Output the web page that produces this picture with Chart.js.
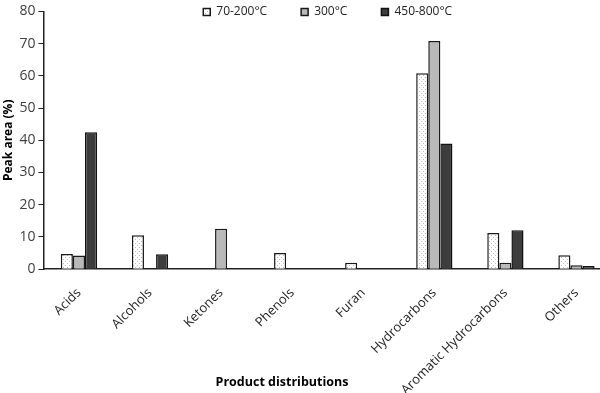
<!DOCTYPE html>
<html>
<head>
<meta charset="utf-8">
<script src="https://cdn.jsdelivr.net/npm/chart.js@4"></script>
<style>
  html, body { margin: 0; padding: 0; background: #fff; }
  #wrap { width: 600px; height: 393px; }
</style>
</head>
<body>
<div id="wrap"><canvas id="chart"></canvas></div>
<script>
const categories = ['Acids', 'Alcohols', 'Ketones', 'Phenols', 'Furan', 'Hydrocarbons', 'Aromatic Hydrocarbons', 'Others'];
const seriesNames = ['70-200°C', '300°C', '450-800°C'];
const low = [4.7, 10.5, 0, 5.0, 2.0, 60.8, 11.2, 4.3];
const mid = [4.2, 0, 12.5, 0, 0, 70.8, 2.0, 1.2];
const high = [42.5, 4.6, 0, 0, 0, 39.0, 12.1, 1.0];
const xTitle = 'Product distributions';
const yTitle = 'Peak area (%)';

const font = "'Open Sans', sans-serif";

// dotted fill for the low-temperature series
function dotPattern() {
    let c = document.createElement('canvas');
    c.width = 4;
    c.height = 4;
    let g = c.getContext('2d');
    g.fillStyle = '#ffffff';
    g.fillRect(0, 0, 4, 4);
    g.fillStyle = '#bdbdbd';
    g.fillRect(1, 1, 1, 1);
    g.fillRect(3, 3, 1, 1);
    return g.createPattern(c, 'repeat');
}

// the original plot is cropped on the right: stretch the x scale past the canvas edge
const EXTRA_RIGHT = 12;
const widenX = {
    id: 'widenX',
    afterLayout(chart) {
        let xs = chart.scales.x;
        xs.right += EXTRA_RIGHT;
        xs.width += EXTRA_RIGHT;
        xs.configure();
        chart.chartArea.right += EXTRA_RIGHT;
        chart.chartArea.width += EXTRA_RIGHT;
    }
};

// legend sits inside the plot, over the top of the bars, like the excel original
const overlayLegend = {
    id: 'overlayLegend',
    beforeLayout(chart) {
        let lg = chart.legend;
        if (lg && !lg._flat) {
            let fit = lg.fit;
            lg.fit = function () { fit.call(this); this.height = 0; };
            lg._flat = true;
        }
    },
    afterLayout(chart) {
        let lg = chart.legend;
        let p = lg.options.labels.padding;
        lg.top = 12 - 6 - p;
        lg.bottom = 30;
        lg.left = chart.chartArea.left;
        lg.right = chart.chartArea.right;
    }
};

// x title is off-centre in the original, so it is placed by hand
const xTitlePlugin = {
    id: 'xTitlePlugin',
    afterDraw(chart) {
        let ctx = chart.ctx;
        ctx.save();
        ctx.font = "bold 12.5px " + font;
        ctx.fillStyle = '#000';
        ctx.textAlign = 'center';
        ctx.textBaseline = 'middle';
        ctx.fillText(xTitle, 282, 382);
        ctx.restore();
    }
};

new Chart(document.getElementById('chart'), {
    type: 'bar',
    plugins: [widenX, overlayLegend, xTitlePlugin],
    data: {
        labels: categories,
        datasets: [
            { label: seriesNames[0], data: low, backgroundColor: dotPattern(), borderColor: '#1a1a1a', borderWidth: 1.5 },
            { label: seriesNames[1], data: mid, backgroundColor: '#b9b9b9', borderColor: '#1a1a1a', borderWidth: 1.5 },
            { label: seriesNames[2], data: high, backgroundColor: '#3d3d3d', borderColor: '#111111', borderWidth: 1.5 }
        ]
    },
    options: {
        responsive: true,
        maintainAspectRatio: false,
        animation: false,
        categoryPercentage: 0.51,
        barPercentage: 1,
        layout: { padding: { top: 1, right: 0, left: 0, bottom: -21 } },
        plugins: {
            legend: {
                position: 'top',
                align: 'center',
                labels: {
                    boxWidth: 7,
                    boxHeight: 7,
                    padding: 34,
                    color: '#222',
                    font: { family: font, size: 12 }
                }
            },
            tooltip: { enabled: false }
        },
        scales: {
            x: {
                grid: { display: false, drawTicks: false },
                border: { color: '#222', width: 1.5 },
                ticks: {
                    minRotation: 45,
                    maxRotation: 45,
                    padding: 16,
                    color: '#222',
                    font: { family: font, size: 13 }
                }
            },
            y: {
                min: 0,
                max: 80,
                grid: { drawOnChartArea: false, tickLength: 5, color: '#222' },
                border: { color: '#222', width: 1.5 },
                ticks: {
                    stepSize: 5,
                    color: '#404040',
                    padding: 3,
                    font: { family: font, size: 14 },
                    callback: (v) => v % 10 === 0 ? v : ''
                },
                title: {
                    display: true,
                    text: yTitle,
                    color: '#000',
                    padding: { top: 1, bottom: 1 },
                    font: { family: font, size: 12, weight: 'bold' }
                }
            }
        }
    }
});
</script>
</body>
</html>
